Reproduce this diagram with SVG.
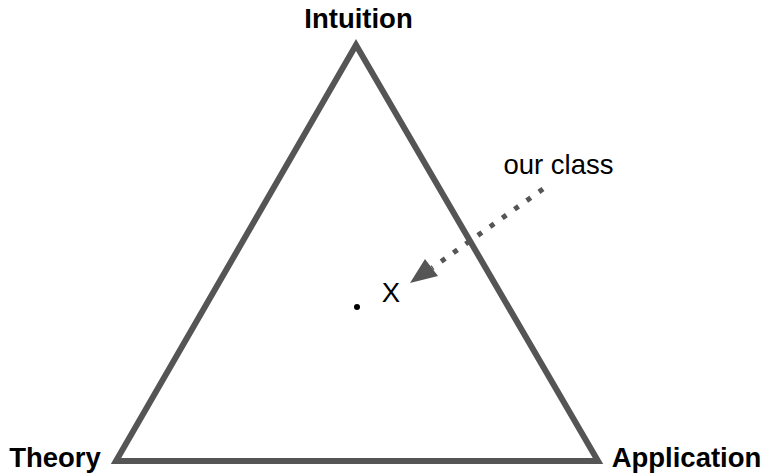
<svg xmlns="http://www.w3.org/2000/svg" width="764" height="474" viewBox="0 0 764 474">
<style>
.lbl{font-family:"Liberation Sans",Arial,sans-serif;font-weight:bold;font-size:27.5px;fill:#000}
.txt{font-family:"Liberation Sans",Arial,sans-serif;font-size:27.5px;fill:#000}
</style>
<rect width="764" height="474" fill="#fff"/>
<g id="triangle">
<polygon points="356,45 116,461 598,461" fill="none" stroke="#555" stroke-width="6" stroke-linejoin="miter"/>
</g>
<g id="connectors">
<line x1="543" y1="189" x2="432" y2="268" stroke="#555" stroke-width="5" stroke-dasharray="5,10"/>
<polygon points="410,283 425,259 438,276" fill="#555"/>
</g>
<g id="intuition"><text class="lbl" x="358.5" y="28" text-anchor="middle">Intuition</text></g>
<g id="theory"><text class="lbl" x="55" y="467" text-anchor="middle">Theory</text></g>
<g id="application"><text class="lbl" x="686.5" y="467" text-anchor="middle">Application</text></g>
<g id="ourclass"><text class="txt" x="558.5" y="174" text-anchor="middle">our class</text></g>
<g id="x"><text class="txt" x="391" y="302" text-anchor="middle">X</text><circle cx="357" cy="307" r="3" fill="#000"/></g>
</svg>
